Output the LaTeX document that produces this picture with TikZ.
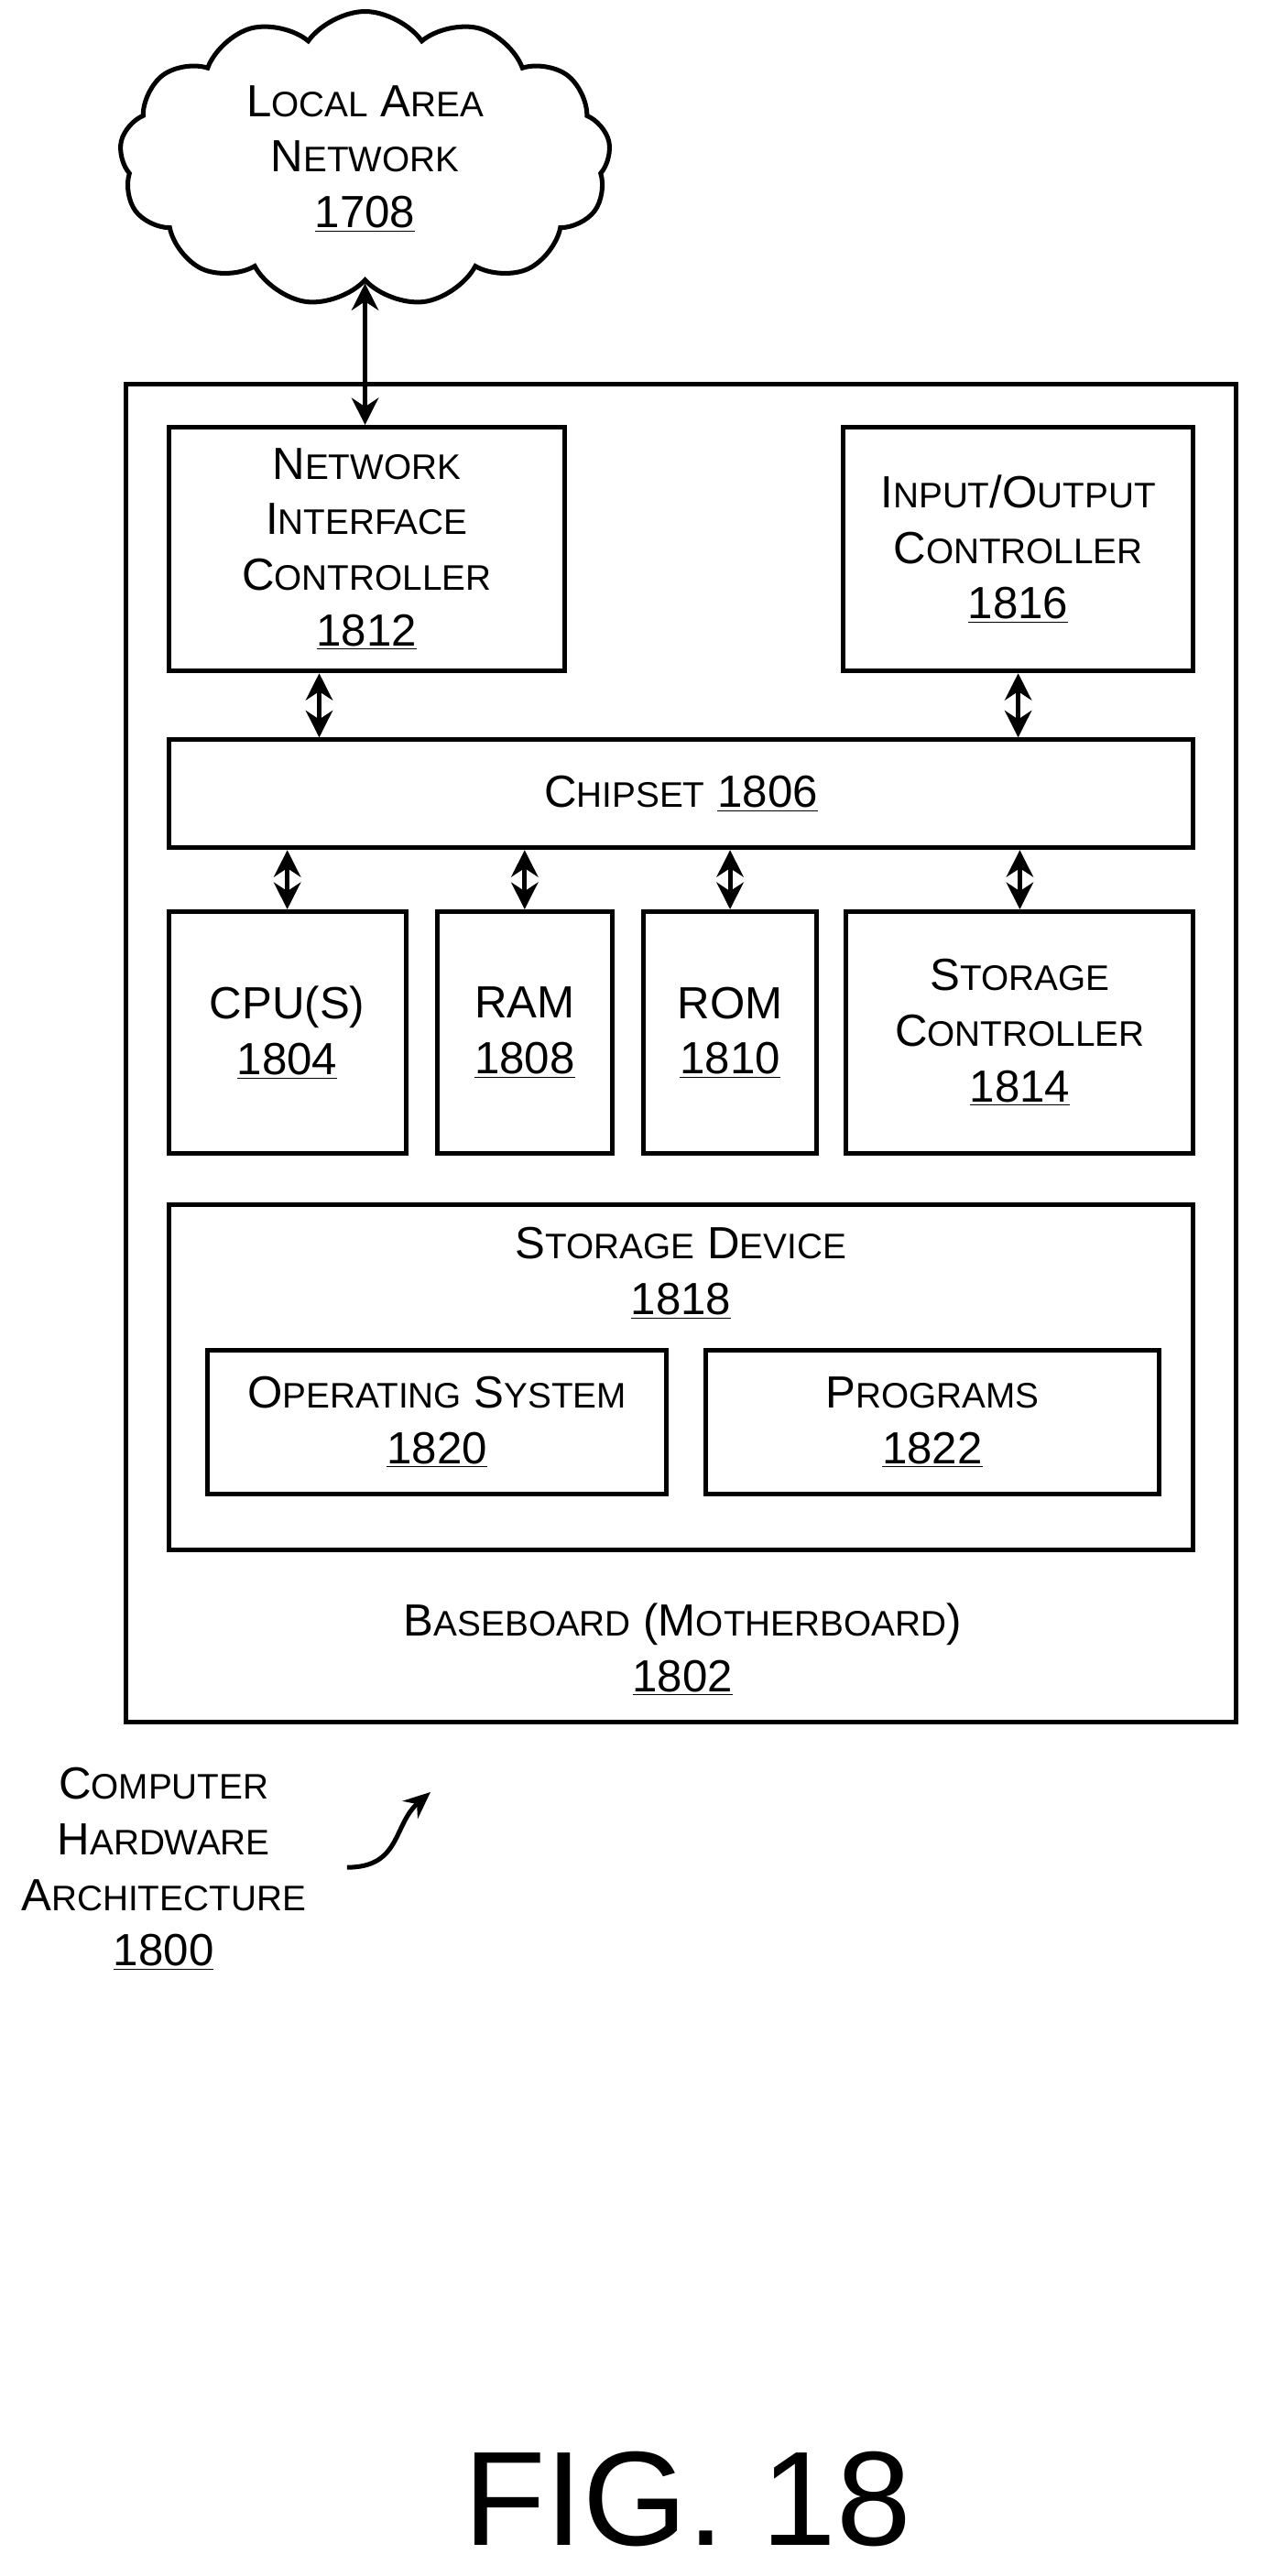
\documentclass[tikz,border=0pt]{standalone}
\usepackage{fontspec}
\setmainfont{Liberation Sans}
\usetikzlibrary{shapes.symbols,arrows.meta,calc}
\newcommand\smc[2]{#1{\fontsize{18.5}{22}\selectfont\MakeUppercase{#2}}}
\newcommand\num[1]{\underline{#1}}

\begin{document}
\begin{tikzpicture}[x=0.03cm,y=-0.03cm,
  box/.style={draw,line width=2.4pt,inner sep=0pt,font=\fontsize{23.5}{29}\selectfont,align=center},
  lbl/.style={inner sep=0pt,font=\fontsize{23.5}{29}\selectfont,align=center},
  dbl/.style={{Stealth[length=14pt,width=14pt]}-{Stealth[length=14pt,width=14pt]},line width=2.4pt}]

\useasboundingbox (0,0) rectangle (772,1574);

% cloud
\node[cloud,draw,line width=2.4pt,cloud puffs=13,cloud puff arc=110,aspect=1.6,
  minimum width=300*0.03cm,minimum height=180*0.03cm,lbl] (lan) at (223,97)
  {\smc{L}{ocal} \smc{A}{rea}\\\smc{N}{etwork}\\\num{1708}};

% baseboard
\draw[line width=2.4pt] (77,235) rectangle (755,1052);
\node[lbl] (base) at (417,1008) {\smc{B}{aseboard} (\smc{M}{otherboard})\\\num{1802}};

% top row
\node[box,minimum width=242*0.03cm,minimum height=149*0.03cm] (nic) at (224,335.5)
  {\smc{N}{etwork}\\\smc{I}{nterface}\\\smc{C}{ontroller}\\\num{1812}};
\node[box,minimum width=214*0.03cm,minimum height=149*0.03cm] (io) at (622,335.5)
  {\smc{I}{nput}/\smc{O}{utput}\\\smc{C}{ontroller}\\\num{1816}};

% chipset
\node[box,minimum width=626*0.03cm,minimum height=66*0.03cm] (chip) at (416,485)
  {\smc{C}{hipset} \num{1806}};

% second row
\node[box,minimum width=145*0.03cm,minimum height=148*0.03cm] (cpu) at (175.5,631)
  {CPU(S)\\\num{1804}};
\node[box,minimum width=107*0.03cm,minimum height=148*0.03cm] (ram) at (320.5,631)
  {RAM\\\num{1808}};
\node[box,minimum width=106*0.03cm,minimum height=148*0.03cm] (rom) at (446,631)
  {ROM\\\num{1810}};
\node[box,minimum width=212*0.03cm,minimum height=148*0.03cm] (sc) at (623,631)
  {\smc{S}{torage}\\\smc{C}{ontroller}\\\num{1814}};

% storage device
\draw[line width=2.4pt] (103,736) rectangle (729,947);
\node[lbl] (sd) at (416,778) {\smc{S}{torage} \smc{D}{evice}\\\num{1818}};
\node[box,minimum width=280*0.03cm,minimum height=88*0.03cm] (os) at (267,869)
  {\smc{O}{perating} \smc{S}{ystem}\\\num{1820}};
\node[box,minimum width=277*0.03cm,minimum height=88*0.03cm] (prog) at (569.5,869)
  {\smc{P}{rograms}\\\num{1822}};

% connectors
\draw[dbl] (lan.south) -- (lan.south |- nic.north);
\draw[dbl] ([xshift=-29*0.03cm]nic.south) -- ([xshift=-29*0.03cm]nic.south |- chip.north);
\draw[dbl] (io.south) -- (io.south |- chip.north);
\foreach \n in {cpu,ram,rom,sc}
  \draw[dbl] (\n.north) -- (\n.north |- chip.south);

% caption
\node[lbl] (arch) at (100,1142) {\smc{C}{omputer}\\\smc{H}{ardware}\\\smc{A}{rchitecture}\\\num{1800}};
\coordinate (archtip) at (263,1095);
\draw[-{Stealth[length=14pt,width=12pt]},line width=2.4pt] (212,1141) .. controls (245,1141) and (240,1115) .. (archtip);

\node[inner sep=0pt,font=\fontsize{70}{75}\selectfont] (fig) at (420,1527) {FIG. 18};
\end{tikzpicture}
\end{document}
